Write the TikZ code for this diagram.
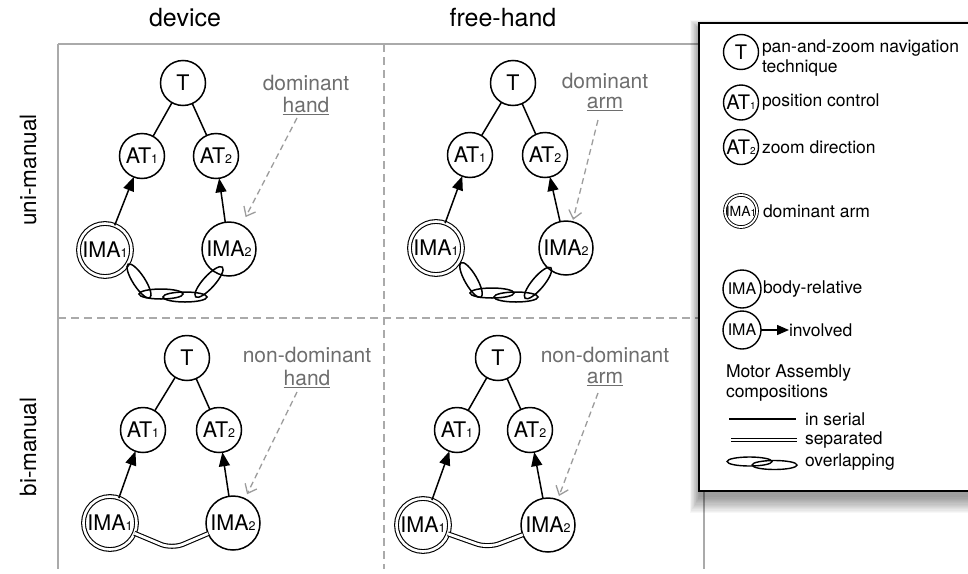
\documentclass[tikz,border=0pt]{standalone}
\usepackage{fontspec}
\setmainfont{TeX Gyre Heros}
\usetikzlibrary{arrows.meta}
\definecolor{framegray}{HTML}{AAAAAA}
\definecolor{lblgray}{HTML}{6E6E6E}
\definecolor{arrgray}{HTML}{9C9C9C}
\newcommand\sbs[1]{{\fontsize{12.5}{12}\selectfont #1}}
\newcommand\lsbs[1]{{\fontsize{10}{10}\selectfont #1}}
\newcommand\drawcell[6]{%
  \node[tnode] (#1T) at (#2) {T};
  \node[tnode] (#1A1) at (#3) {AT\sbs{1}};
  \node[tnode] (#1A2) at (#4) {AT\sbs{2}};
  \node[imadbl] (#1I1) at (#5) {IMA\sbs{1}};
  \node[imanode] (#1I2) at (#6) {IMA\sbs{2}};
  \draw[edge] (#1T) -- (#1A1);
  \draw[edge] (#1T) -- (#1A2);
  \draw[inv] (#1I1) -- (#1A1);
  \draw[inv] (#1I2) -- (#1A2);
}
\newcommand\linkell[4]{%
  \draw[edge, shift={(#1)}, rotate=#2] (0,0) ellipse [x radius=#3pt, y radius=#4pt];
}
\begin{document}
\begin{tikzpicture}[x=1pt,y=-1pt,
  every node/.style={inner sep=0pt, outer sep=0pt},
  nodefont/.style={font=\fontsize{21.5}{24}\selectfont},
  tnode/.style={circle, draw, line width=1.5pt, minimum size=45pt, nodefont},
  imanode/.style={circle, draw, line width=1.5pt, minimum size=54pt, nodefont},
  imadbl/.style={circle, draw, line width=1.1pt, double, double distance=2.6pt, minimum size=53pt, nodefont},
  edge/.style={line width=1.5pt},
  inv/.style={line width=1.5pt, -{Triangle[length=14pt,width=11pt]}},
  sepline/.style={line width=1.1pt, double, double distance=2.8pt},
  dasharrow/.style={arrgray, line width=1.3pt, dash pattern=on 6pt off 4pt, -{Straight Barb[length=8pt,width=13pt]}},
  graylbl/.style={text=lblgray, font=\fontsize{21}{24}\selectfont},
  framesolid/.style={framegray, line width=1.6pt},
  framedash/.style={framegray, line width=1.6pt, dash pattern=on 8pt off 5pt},
  head/.style={font=\fontsize{25}{28}\selectfont},
  rowhead/.style={font=\fontsize{22.5}{26}\selectfont, rotate=90},
  lgtext/.style={font=\fontsize{17.5}{20}\selectfont, anchor=west, align=left},
  lcirc/.style={circle, draw, line width=1.4pt, minimum size=35pt, font=\fontsize{20}{20}\selectfont},
]
\useasboundingbox (0,0) rectangle (968,573);
\fill[white] (0,0) rectangle (968,573);
\clip (0,0) rectangle (968,573);

% frame
\draw[framesolid] (58,44) -- (704,44);
\draw[framesolid] (58,44) -- (58,569);
\draw[framesolid] (704,44) -- (704,569);
\draw[framedash] (384,44) -- (384,569);
\draw[framedash] (58,318) -- (704,318);

% headers
\node[head] (hdev) at (185,18) {device};
\node[head] (hfree) at (503,18) {free-hand};
\node[rowhead] (huni) at (28,170) {uni-manual};
\node[rowhead] (hbi) at (28,447) {bi-manual};

% cells
\drawcell{tl}{183,83}{142,156}{216,156}{105,250}{229,249}
\drawcell{tr}{513,83}{470,155}{545,155}{436,248}{566,248}
\drawcell{bl}{187,358}{143,430}{219,430}{110,523}{233,523}
\drawcell{br}{498,358}{457,430}{530,430}{423,525}{548,525}

% overlapping links (uni-manual)
\linkell{139,281}{-57}{20}{6}
\linkell{161,294}{0}{22}{5}
\linkell{185,297}{0}{22}{5}
\linkell{209,282}{48}{20}{6}
\linkell{471,280}{-60}{20}{6}
\linkell{492,293}{0}{22}{5}
\linkell{516,297}{0}{22}{5}
\linkell{538,283}{50}{20}{6}

% separated (bi-manual)
\coordinate (blbot) at (172,549);
\coordinate (brbot) at (488,548);
\draw[sepline, rounded corners=12pt] (blI1) -- (blbot) -- (blI2);
\draw[sepline, rounded corners=12pt] (brI1) -- (brbot) -- (brI2);

% gray labels
\node[graylbl] (tlL1) at (306,83) {dominant};
\node[graylbl] (tlL2) at (306,106) {\underline{hand}};
\node[graylbl] (trL1) at (605,81) {dominant};
\node[graylbl] (trL2) at (605,104) {\underline{arm}};
\node[graylbl] (blL1) at (307,355) {non-dominant};
\node[graylbl] (blL2) at (307,379) {\underline{hand}};
\node[graylbl] (brL1) at (605,355) {non-dominant};
\node[graylbl] (brL2) at (605,379) {\underline{arm}};
\coordinate (tlS) at (297,118);
\coordinate (trS) at (598,120);
\coordinate (blS) at (297,392);
\coordinate (brS) at (598,393);
\draw[dasharrow, shorten >=9pt] (tlS) -- (tlI2);
\draw[dasharrow, shorten >=2pt] (trS) -- (trI2);
\draw[dasharrow, shorten >=5pt] (blS) -- (blI2);
\draw[dasharrow, shorten >=4pt] (brS) -- (brI2);

% legend shadow
\foreach \i in {0,...,13}{
  \fill[black, opacity=0.03] ({699-9+\i*0.7},{23+6-9+\i*0.7}) rectangle (1000,{491+10+12-\i*1.2});
}
% legend box
\draw[line width=2pt, fill=white] (699,23) rectangle (1000,491);

\node[lcirc] (lgT) at (741,52) {T};
\node[lgtext] (lgTt) at (762,58) {pan-and-zoom navigation\\technique};
\node[lcirc] (lgA1) at (741,102.5) {AT\lsbs{1}};
\node[lgtext] (lgA1t) at (762,102.5) {position control};
\node[lcirc] (lgA2) at (741,147) {AT\lsbs{2}};
\node[lgtext] (lgA2t) at (762,147) {zoom direction};
\node[circle, draw, line width=0.9pt, double, double distance=1.8pt, minimum size=32pt, font=\fontsize{14}{14}\selectfont] (lgI1) at (741,211) {IMA\lsbs{1}};
\node[lgtext] (lgI1t) at (763,211) {dominant arm};
\node[circle, draw, line width=1.4pt, minimum size=38pt, font=\fontsize{16}{16}\selectfont] (lgI) at (742,289) {IMA};
\node[lgtext] (lgIt) at (763,289) {body-relative};
\node[circle, draw, line width=1.4pt, minimum size=38pt, font=\fontsize{16}{16}\selectfont] (lgIb) at (742,330) {IMA};
\node[lgtext] (lgInv) at (789,330) {involved};
\draw[line width=1.4pt, -{Triangle[length=12pt,width=10pt]}] (lgIb) -- (lgInv.west);
\node[lgtext] (lgMA) at (726,383) {Motor Assembly\\compositions};
\coordinate (ls1) at (729,419);
\coordinate (ls2) at (796,419);
\draw[line width=1.4pt] (ls1) -- (ls2);
\node[lgtext] (lgSer) at (805,419) {in serial};
\coordinate (ld1) at (731,440);
\coordinate (ld2) at (797,440);
\draw[line width=1pt, double, double distance=2.4pt] (ld1) -- (ld2);
\node[lgtext] (lgSep) at (805,440) {separated};
\draw[line width=1.4pt] (749.5,461.5) ellipse [x radius=22.5pt, y radius=4.5pt];
\draw[line width=1.4pt] (774.5,465) ellipse [x radius=22.5pt, y radius=4.5pt];
\node[lgtext] (lgOv) at (805,462) {overlapping};
\end{tikzpicture}
\end{document}
